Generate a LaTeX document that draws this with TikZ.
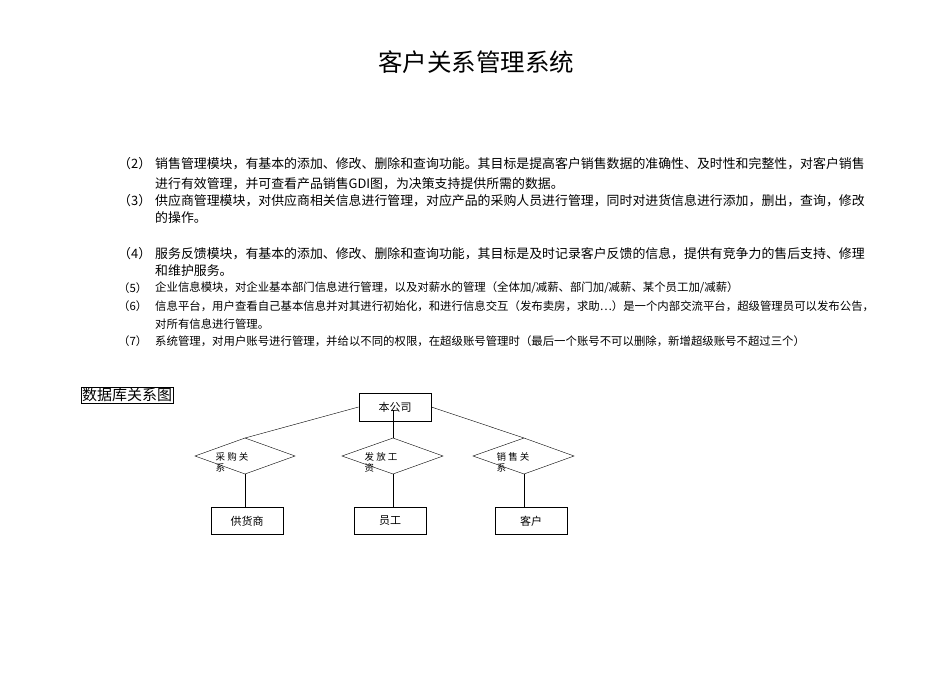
\documentclass[tikz,border=0pt]{standalone}
\usepackage{fontspec}
\newfontfamily\cjk{Noto Sans CJK SC}
\begin{document}
\begin{tikzpicture}[x=1pt,y=-1pt,
  txt/.style={anchor=west,inner sep=0pt,font=\cjk\fontsize{12.9}{12.9}\selectfont},
  stxt/.style={anchor=west,inner sep=0pt,font=\cjk\fontsize{11.4}{11.4}\selectfont},
  ent/.style={draw,thick,minimum width=72pt,minimum height=27pt,inner sep=0pt,font=\cjk\fontsize{11}{11}\selectfont},
  rlab/.style={inner sep=0pt,align=left,font=\cjk\fontsize{9.5}{11}\selectfont},
  ln/.style={thin}]
\useasboundingbox (0,0) rectangle (950,672);
\node[inner sep=0pt,font=\cjk\fontsize{24.5}{24.5}\selectfont] (title) at (476,62) {客户关系管理系统};
\node[txt] (n2) at (118,164) {（2）};
\node[txt] (l1) at (155,164) {销售管理模块，有基本的添加、修改、删除和查询功能。其目标是提高客户销售数据的准确性、及时性和完整性，对客户销售};
\node[txt] (l2) at (155,184) {进行有效管理，并可查看产品销售GDI图，为决策支持提供所需的数据。};
\node[txt] (n3) at (118,201) {（3）};
\node[txt] (l3) at (155,201) {供应商管理模块，对供应商相关信息进行管理，对应产品的采购人员进行管理，同时对进货信息进行添加，删出，查询，修改};
\node[txt] (l4) at (155,218) {的操作。};
\node[txt] (n4) at (118,254) {（4）};
\node[txt] (l5) at (155,254) {服务反馈模块，有基本的添加、修改、删除和查询功能，其目标是及时记录客户反馈的信息，提供有竞争力的售后支持、修理};
\node[txt] (l6) at (155,271) {和维护服务。};
\node[stxt] (n5) at (118,288) {（5）};
\node[stxt] (l7) at (155,288) {企业信息模块，对企业基本部门信息进行管理，以及对薪水的管理（全体加/减薪、部门加/减薪、某个员工加/减薪）};
\node[stxt] (n6) at (118,306) {（6）};
\node[stxt] (l8) at (155,306) {信息平台，用户查看自己基本信息并对其进行初始化，和进行信息交互（发布卖房，求助…）是一个内部交流平台，超级管理员可以发布公告，};
\node[stxt] (l9) at (155,324) {对所有信息进行管理。};
\node[stxt] (n7) at (118,341) {（7）};
\node[stxt] (l10) at (155,341) {系统管理，对用户账号进行管理，并给以不同的权限，在超级账号管理时（最后一个账号不可以删除，新增超级账号不超过三个）};
\node[draw,thin,inner sep=1pt,anchor=west,font=\cjk\fontsize{15}{15}\selectfont] (db) at (81,395) {数据库关系图};
\node[ent,minimum height=28pt] (co) at (395,407) {本公司};
\node[ent] (sup) at (247,521) {供货商};
\node[ent] (emp) at (390,521) {员工};
\node[ent] (cus) at (531,521) {客户};
\coordinate (lt) at (245,438); \coordinate (ll) at (195,456); \coordinate (lb) at (245,474); \coordinate (lr) at (295,456);
\coordinate (mt) at (393,438); \coordinate (ml) at (342,456); \coordinate (mb) at (393,474); \coordinate (mr) at (443,456);
\coordinate (rt) at (524,438); \coordinate (rl) at (473,456); \coordinate (rb) at (524,474); \coordinate (rr) at (574,456);
\draw[ln] (lt)--(lr)--(lb)--(ll)--cycle;
\draw[ln] (mt)--(mr)--(mb)--(ml)--cycle;
\draw[ln] (rt)--(rr)--(rb)--(rl)--cycle;
\node[rlab] (r1) at (232,462) {采 购 关\\系};
\node[rlab] (r2) at (381,462) {发 放 工\\资};
\node[rlab] (r3) at (513,462) {销 售 关\\系};
\draw[ln] (co.west) -- (lt);
\draw[ln] (co.east) -- (rt);
\draw[ln] (mt) -- (393,410);
\draw[ln] (lb) -- (sup.north -| lb);
\draw[ln] (mb) -- (emp.north -| mb);
\draw[ln] (rb) -- (cus.north -| rb);
\end{tikzpicture}
\end{document}
